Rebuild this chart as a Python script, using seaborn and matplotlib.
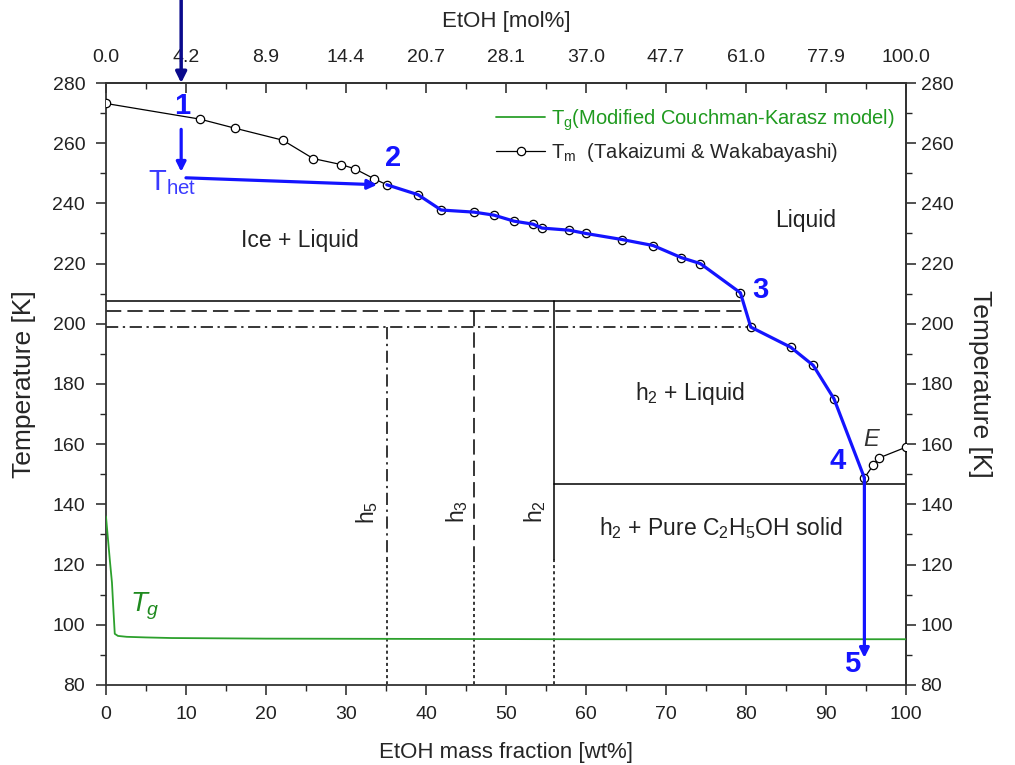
import numpy as np
import pandas as pd
import seaborn as sns
import matplotlib.pyplot as plt

# Tm liquidus (Takaizumi & Wakabayashi)
wt_tm = [0, 11.75, 16.1, 22.1, 25.9, 29.4, 31.1, 33.5, 35.1, 39.0, 41.9, 46.0, 48.5,
         51.0, 53.4, 54.5, 57.9, 60.0, 64.5, 68.4, 71.9, 74.3, 79.3, 80.6, 85.6,
         88.4, 91.0, 94.8, 95.9, 96.6, 100]
T_tm = [273.2, 268.0, 265.0, 261.0, 254.9, 252.9, 251.5, 248.2, 246.2, 242.9, 237.8,
        237.1, 236.1, 234.1, 233.1, 231.8, 231.1, 230.0, 228.0, 226.0, 222.0, 220.0,
        210.3, 198.9, 192.2, 186.2, 175.1, 148.8, 153.0, 155.4, 159.0]

# Tg (Modified Couchman-Karasz model)
wt_tg = [0, 0.2, 0.5, 0.75, 0.9, 1.1, 1.5, 2.6, 5, 8.2, 20, 40, 60, 80, 100]
T_tg = [136, 130, 121, 114, 106.5, 97, 96.3, 96.0, 95.8, 95.6, 95.4, 95.3, 95.2, 95.2, 95.2]

# top axis: mol% at every 10 wt%
wt_ticks = [0, 10, 20, 30, 40, 50, 60, 70, 80, 90, 100]
mol_labels = ["0.0", "4.2", "8.9", "14.4", "20.7", "28.1", "37.0", "47.7", "61.0", "77.9", "100.0"]

# hydrate boundaries
T_h2, T_h3, T_h5 = 207.6, 204.3, 199.0
wt_h2, wt_h3, wt_h5 = 56.0, 46.0, 35.1
T_eutectic = 146.7
T_dotted = 122.0

sns.set_theme(style="ticks")
plt.rcParams['font.family'] = ['Liberation Sans', 'DejaVu Sans']
plt.rcParams['mathtext.fontset'] = 'custom'
plt.rcParams['mathtext.rm'] = 'Liberation Sans'
plt.rcParams['mathtext.it'] = 'Liberation Sans:italic'
plt.rcParams['mathtext.default'] = 'regular'

fig = plt.figure(figsize=(10.15, 7.65), dpi=100)
ax = fig.add_axes([0.1044, 0.1046, 0.7882, 0.7869])

tm = pd.DataFrame({"wt": wt_tm, "T": T_tm})
tg = pd.DataFrame({"wt": wt_tg, "T": T_tg})

blue = "#1414ff"
sns.lineplot(data=tg, x="wt", y="T", ax=ax, color="#2ca02c", lw=1.3, sort=False,
             label="T$_g$(Modified Couchman-Karasz model)", zorder=3)
sns.lineplot(data=tm, x="wt", y="T", ax=ax, color="black", lw=0.9, sort=False,
             marker="o", markersize=6, markerfacecolor="white", markeredgecolor="black",
             markeredgewidth=0.9, label="T$_m$  (Takaizumi & Wakabayashi)", zorder=4)

# blue path 2 -> 3 -> 4 along the liquidus
seg = tm.iloc[8:28]
ax.plot(seg["wt"], seg["T"], color=blue, lw=2.3, zorder=5)

# phase boundary lines
lk = dict(color="black", lw=1.1, zorder=2)
ax.plot([0, wt_tm[22]], [T_h2, T_h2], ls="-", **lk)
ax.plot([0, 80.0], [T_h3, T_h3], ls=(0, (10, 4)), **lk)
ax.plot([0, wt_tm[23]], [T_h5, T_h5], ls=(0, (8, 3, 1.5, 3)), **lk)
ax.plot([wt_h2, wt_h2], [T_h2, T_dotted], ls="-", **lk)
ax.plot([wt_h3, wt_h3], [T_h3, T_dotted], ls=(0, (10, 4)), **lk)
ax.plot([wt_h5, wt_h5], [T_h5, T_dotted], ls=(0, (8, 3, 1.5, 3)), **lk)
for w in (wt_h2, wt_h3, wt_h5):
    ax.plot([w, w], [T_dotted, 80], ls=(0, (2, 2)), **lk)
ax.plot([wt_h2, 100], [T_eutectic, T_eutectic], ls="-", **lk)

# arrows
ap = dict(arrowstyle="-|>", color=blue, lw=2.3, mutation_scale=14, shrinkA=0, shrinkB=0)
ax.annotate("", xy=(9.4, 250.5), xytext=(9.4, 264.6), arrowprops=ap, zorder=6)
ax.annotate("", xy=(33.9, 246.2), xytext=(10.0, 248.5), arrowprops=ap, zorder=6)
ax.annotate("", xy=(94.8, 89), xytext=(94.8, 148.8), arrowprops=ap, zorder=6)
ax.annotate("", xy=(9.4, 280), xytext=(9.4, 309.5), annotation_clip=False,
            arrowprops=dict(arrowstyle="-|>", color="#0a0a8c", lw=2.5, mutation_scale=16,
                            shrinkA=0, shrinkB=0), zorder=6)

# step numbers
nk = dict(color=blue, fontsize=21, fontweight="bold", ha="center", va="center", zorder=7)
ax.text(9.5, 272.3, "1", **nk)
ax.text(35.9, 255.2, "2", **nk)
ax.text(81.75, 211.3, "3", **nk)
ax.text(91.4, 154.4, "4", **nk)
ax.text(93.25, 87.0, "5", **nk)
ax.text(95.6, 161.4, "E", color="#333333", fontsize=17, style="italic", ha="center", va="center")
ax.text(8.3, 247.0, "T$_{het}$", color="#3a3aff", fontsize=21, ha="center", va="center")
ax.text(4.8, 106.0, "$\\mathit{T}_\\mathit{g}$", color="#1f8a1f", fontsize=20, ha="center", va="center")

# region labels
rk = dict(color="#222222", fontsize=16.5)
ax.text(24.25, 227.7, "Ice + Liquid", ha="center", va="center", **rk)
ax.text(87.4, 234.4, "Liquid", ha="center", va="center", **rk)
ax.text(73.0, 176.8, "h$_2$ + Liquid", ha="center", va="center", **rk)
ax.text(61.6, 132.3, "h$_2$ + Pure C$_2$H$_5$OH solid", ha="left", va="center", **rk)
for w, lab in ((32.6, "h$_5$"), (43.9, "h$_3$"), (53.6, "h$_2$")):
    ax.text(w, 137.5, lab, rotation=90, ha="center", va="center", **rk)

# axes formatting
ax.set_xlim(0, 100)
ax.set_ylim(80, 280)
ax.set_xticks(wt_ticks)
ax.set_yticks(np.arange(80, 281, 20))
ax.set_xticks(np.arange(5, 100, 10), minor=True)
ax.set_yticks(np.arange(90, 280, 20), minor=True)
ax.set_xlabel("EtOH mass fraction [wt%]", fontsize=16, labelpad=14)
ax.set_ylabel("Temperature [K]", fontsize=19, labelpad=12)
ax.tick_params(which="major", direction="out", length=7, width=1.1, labelsize=14,
               colors="#222222", pad=8)
ax.tick_params(which="minor", direction="out", length=4, width=1.0)
for s in ax.spines.values():
    s.set_visible(True)
    s.set_linewidth(1.3)
    s.set_color("#333333")

top = ax.secondary_xaxis("top")
top.set_xticks(wt_ticks)
top.set_xticklabels(mol_labels)
top.set_xticks(np.arange(5, 100, 10), minor=True)
top.tick_params(which="major", direction="in", length=7, width=1.1, labelsize=14, pad=12,
                colors="#222222")
top.tick_params(which="minor", direction="in", length=4, width=1.0)
top.set_xlabel("EtOH [mol%]", fontsize=16, labelpad=16)

right = ax.secondary_yaxis("right")
right.set_yticks(np.arange(80, 281, 20))
right.set_yticks(np.arange(90, 280, 20), minor=True)
right.tick_params(which="major", direction="out", length=7, width=1.1, labelsize=14,
                  colors="#222222")
right.tick_params(which="minor", direction="out", length=4, width=1.0)
right.set_ylabel("Temperature [K]", fontsize=19, rotation=-90, labelpad=28)

leg = ax.legend(loc="upper left", bbox_to_anchor=(0.478, 0.973), frameon=False,
                fontsize=14.5, handlelength=2.4, handletextpad=0.3, labelspacing=0.4,
                borderaxespad=0)
leg.get_texts()[0].set_color("#1f9a1f")

fig.savefig("out.png", dpi=100)
